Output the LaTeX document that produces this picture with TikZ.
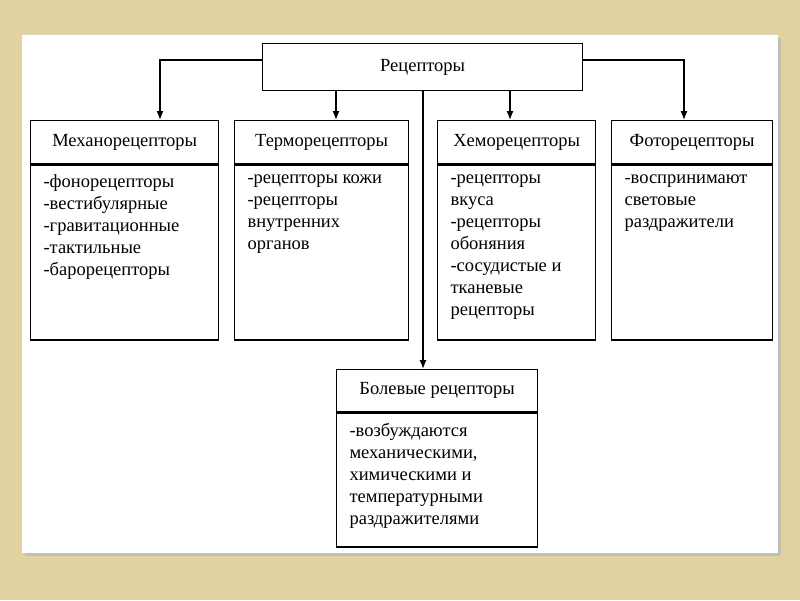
\documentclass[tikz,border=0pt]{standalone}
\usepackage{fontspec}
\setmainfont{Liberation Serif}
\usetikzlibrary{positioning,arrows.meta}
\definecolor{beige}{RGB}{226,210,160}
\tikzset{
  head/.style={draw, line width=1.3pt, minimum height=43pt, anchor=north west, inner sep=0pt, font=\fontsize{18.5}{22}\selectfont},
  body/.style={draw, line width=1.3pt, anchor=north west, inner sep=0pt},
  txt/.style={anchor=north west, align=left, font=\fontsize{18.5}{22}\selectfont}
}
\begin{document}
\begin{tikzpicture}[x=1pt,y=-1pt,>={Latex[length=9pt,width=7pt]}]
  \fill[beige] (0,0) rectangle (800,600);
  \fill[black!25] (25,38) rectangle (781,556);
  \fill[white] (22,35) rectangle (778,553);
  \useasboundingbox (0,0) rectangle (800,600);

  \node[head, minimum width=320pt, minimum height=47pt] (root) at (262,43) {Рецепторы};

  \node[head, minimum width=188pt] (mech) at (30,120) {Механорецепторы};
  \node[head, minimum width=174pt] (therm) at (234,120) {Терморецепторы};
  \node[head, minimum width=158pt] (chem) at (437,120) {Хеморецепторы};
  \node[head, minimum width=161pt] (photo) at (611,120) {Фоторецепторы};
  \node[head, minimum width=201pt, minimum height=42pt] (pain) at (336,369) {Болевые рецепторы};

  \node[body, minimum width=188pt, minimum height=175pt] (mechb) at (mech.south west) {};
  \node[body, minimum width=174pt, minimum height=175pt] (thermb) at (therm.south west) {};
  \node[body, minimum width=158pt, minimum height=175pt] (chemb) at (chem.south west) {};
  \node[body, minimum width=161pt, minimum height=175pt] (photob) at (photo.south west) {};
  \node[body, minimum width=201pt, minimum height=134pt] (painb) at (pain.south west) {};

  \node[txt] at ([xshift=10pt,yshift=-7pt]mechb.north west) {-фонорецепторы\\-вестибулярные\\-гравитационные\\-тактильные\\-барорецепторы};
  \node[txt] at ([xshift=10pt,yshift=-7pt]thermb.north west) {-рецепторы кожи\\-рецепторы\\внутренних\\органов};
  \node[txt] at ([xshift=10pt,yshift=-7pt]chemb.north west) {-рецепторы\\вкуса\\-рецепторы\\обоняния\\-сосудистые и\\тканевые\\рецепторы};
  \node[txt] at ([xshift=10pt,yshift=-7pt]photob.north west) {-воспринимают\\световые\\раздражители};
  \node[txt] at ([xshift=10pt,yshift=-7pt]painb.north west) {-возбуждаются\\механическими,\\химическими и\\температурными\\раздражителями};

  \draw[line width=1.3pt,->] (root.west |- 0,60) -| (mech.north -| 160,0);
  \draw[line width=1.3pt,->] (root.east |- 0,60) -| (photo.north -| 684,0);
  \draw[line width=1.3pt,->] (root.south -| 336,0) -- (therm.north -| 336,0);
  \draw[line width=1.3pt,->] (root.south -| 510,0) -- (chem.north -| 510,0);
  \draw[line width=1.3pt,->] (root.south -| 423,0) -- (pain.north -| 423,0);
\end{tikzpicture}
\end{document}
